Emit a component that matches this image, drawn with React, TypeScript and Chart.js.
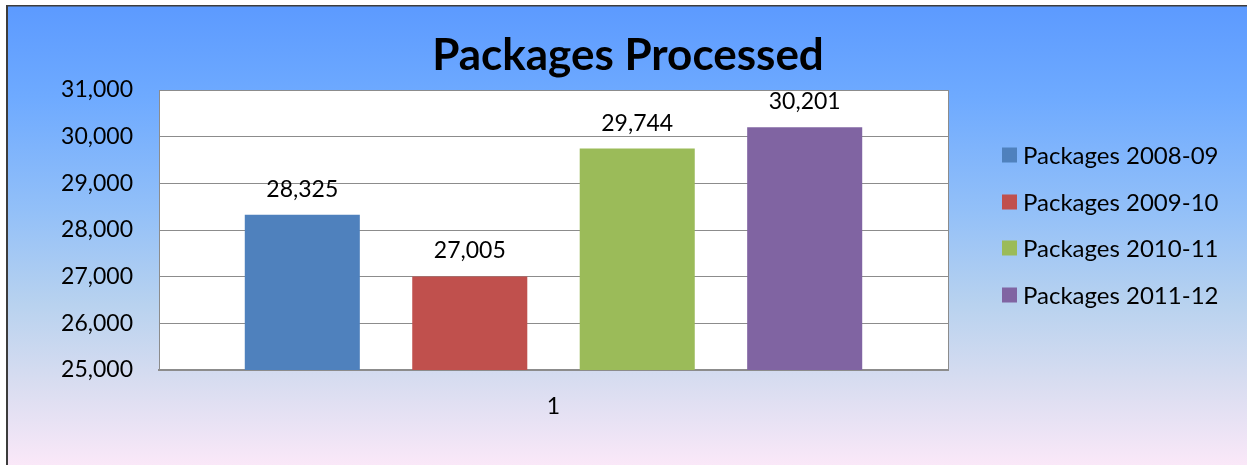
import React, { useEffect, useRef } from "react";
import { Chart, registerables } from "chart.js";

Chart.register(...registerables);

const categories = ["1"];
const seriesNames = ["Packages 2008-09", "Packages 2009-10", "Packages 2010-11", "Packages 2011-12"];
const seriesValues = [[28325], [27005], [29744], [30201]];
const seriesColors = ["#4f81bd", "#c0504d", "#9bbb59", "#8064a2"];
const yTicks = [25000, 26000, 27000, 28000, 29000, 30000, 31000];
const titleText = "Packages Processed";

const FONT = "Lato, 'Open Sans', sans-serif";
const fmt = (v: number) => v.toLocaleString("en-US");

const bgPlugin = {
  id: "bgPlugin",
  beforeDraw(chart: any) {
    const { ctx, width, height, chartArea } = chart;
    ctx.save();
    ctx.fillStyle = "#ffffff";
    ctx.fillRect(0, 0, width, height);
    const g = ctx.createLinearGradient(0, 5, 0, height);
    g.addColorStop(0, "#5c9aff");
    g.addColorStop(0.2, "#6eaaff");
    g.addColorStop(0.45, "#93c0f8");
    g.addColorStop(0.65, "#b8d2ef");
    g.addColorStop(0.81, "#d6dcf0");
    g.addColorStop(1, "#fae8f8");
    ctx.fillStyle = g;
    ctx.fillRect(7, 5, width - 7, height - 5);
    ctx.fillStyle = "#3c3c3c";
    ctx.fillRect(6, 5, 2, height - 5);
    ctx.fillRect(6, 5, width - 6, 1.5);
    ctx.fillStyle = "#ffffff";
    ctx.fillRect(chartArea.left, chartArea.top, chartArea.right - chartArea.left, chartArea.bottom - chartArea.top);
    ctx.restore();
  },
  afterDraw(chart: any) {
    const { ctx, chartArea } = chart;
    ctx.save();
    // plot border right
    ctx.strokeStyle = "#8c8c8c";
    ctx.lineWidth = 1;
    ctx.beginPath();
    ctx.moveTo(chartArea.right + 0.5, chartArea.top);
    ctx.lineTo(chartArea.right + 0.5, chartArea.bottom);
    ctx.stroke();
    // title
    ctx.fillStyle = "#000";
    ctx.font = `bold 44px ${FONT}`;
    ctx.textAlign = "center";
    ctx.textBaseline = "alphabetic";
    ctx.fillText(titleText, 628, 70);
    // data labels
    ctx.font = `23px ${FONT}`;
    chart.data.datasets.forEach((ds: any, i: number) => {
      const meta = chart.getDatasetMeta(i);
      meta.data.forEach((bar: any, j: number) => {
        ctx.fillText(fmt(ds.data[j]), bar.x, bar.y - 18);
      });
    });
    // legend
    ctx.font = `24px ${FONT}`;
    ctx.textAlign = "left";
    ctx.textBaseline = "middle";
    const rows = [155, 202, 248, 295];
    chart.data.datasets.forEach((ds: any, i: number) => {
      ctx.fillStyle = ds.backgroundColor;
      ctx.fillRect(1002, rows[i] - 7.5, 15, 15);
      ctx.fillStyle = "#000";
      ctx.fillText(ds.label, 1023, rows[i] + 1);
    });
    ctx.restore();
  },
};

export default function App() {
  const ref = useRef<HTMLCanvasElement>(null);
  useEffect(() => {
    if (!ref.current) return;
    const chart = new Chart(ref.current, {
      type: "bar",
      data: {
        labels: categories,
        datasets: seriesNames.map((name, i) => ({
          label: name,
          data: seriesValues[i],
          backgroundColor: seriesColors[i],
          borderWidth: 0,
          categoryPercentage: 0.849,
          barPercentage: 0.687,
        })),
      },
      options: {
        responsive: false,
        animation: false,
        layout: { padding: { left: 0, top: 90, right: 299, bottom: 0 } },
        plugins: {
          legend: { display: false },
          title: { display: false },
          tooltip: { enabled: false },
        },
        scales: {
          x: {
            grid: { display: false, drawTicks: false },
            border: { display: true, color: "#8c8c8c", width: 2 },
            ticks: { color: "#000", font: { family: FONT, size: 23 }, padding: 23 },
            afterFit: (s: any) => { s.height = 95; },
          },
          y: {
            min: 25000,
            max: 31000,
            afterBuildTicks: (s: any) => { s.ticks = yTicks.map((v) => ({ value: v })); },
            grid: { color: "#8c8c8c", drawTicks: false, lineWidth: 1 },
            border: { display: true, color: "#8c8c8c", width: 1 },
            ticks: {
              color: "#000",
              font: { family: FONT, size: 23 },
              padding: 26,
              callback: (v: any) => fmt(Number(v)),
            },
            afterFit: (s: any) => { s.width = 159; },
          },
        },
      },
      plugins: [bgPlugin],
    });
    return () => chart.destroy();
  }, []);
  return (
    <div style={{ position: "absolute", left: 0, top: 0, width: 1247, height: 465 }}>
      <canvas ref={ref} width={1247} height={465} style={{ display: "block", width: 1247, height: 465 }} />
    </div>
  );
}
